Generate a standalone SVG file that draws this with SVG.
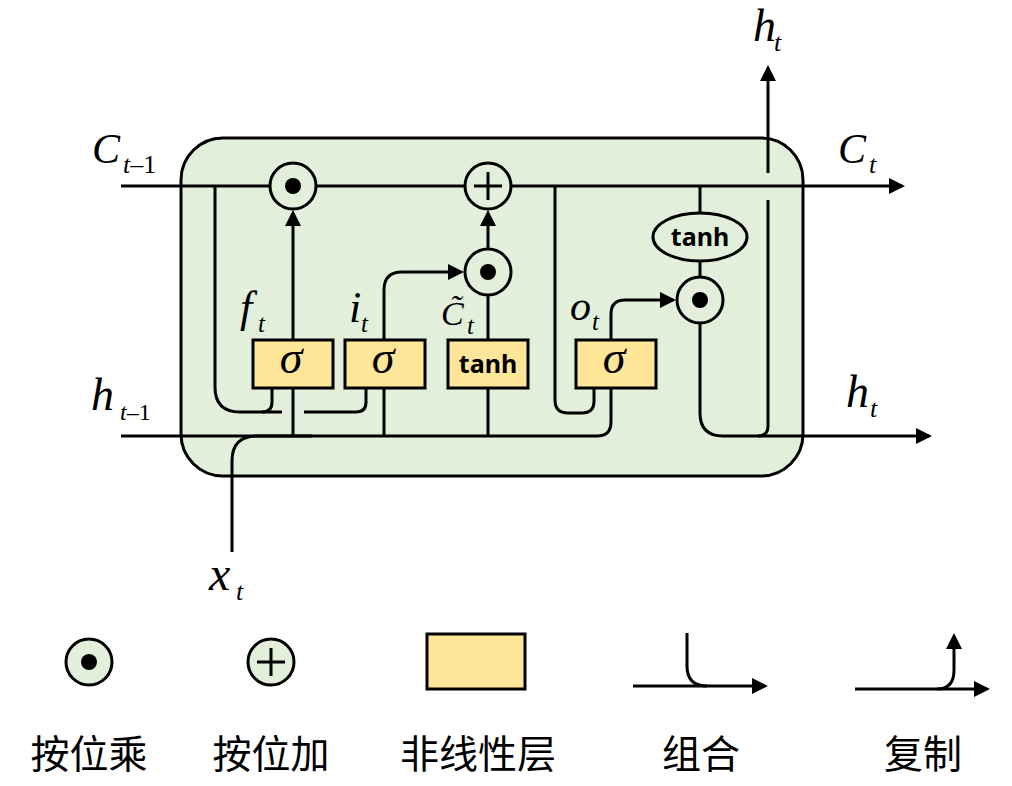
<svg xmlns="http://www.w3.org/2000/svg" width="1012" height="786" viewBox="0 0 1012 786">
<style>
.ln{fill:none;stroke:#000;stroke-width:3}
.op{fill:#E2EFDA;stroke:#000;stroke-width:3}
.box{fill:#FFE699;stroke:#000;stroke-width:3}
.dot{fill:#000}
.m{font-family:"Liberation Serif",serif;font-style:italic;fill:#000}
.r{font-style:normal}
.cc{font-size:42px}
.hh{font-size:46px}
.mid{font-size:44px}
.sub{font-size:26px}
.sub2{font-size:25px}
.sig{font-family:"Liberation Serif",serif;font-style:italic;font-size:46px;text-anchor:middle}
.tn{font-family:"Noto Sans",sans-serif;font-weight:bold;font-size:25px;text-anchor:middle}
.lg{font-family:"Noto Sans CJK SC",sans-serif;font-size:39px;text-anchor:middle}
</style>
<defs>
<marker id="ah" markerWidth="16" markerHeight="16" refX="13" refY="8" orient="auto" markerUnits="userSpaceOnUse">
<path d="M0,0 L16,8 L0,16 Z" fill="#000"/>
</marker>
</defs>
<g id="cell"><rect x="181" y="138" width="622" height="338" rx="42" ry="42" fill="#E2EFDA" stroke="#000" stroke-width="3"/></g>
<g id="connectors" class="ln">
<path d="M121 186 H902" marker-end="url(#ah)"/>
<path d="M768 173 V68" marker-end="url(#ah)"/>
<path d="M768 200 V426 Q768 436 758 436"/>
<path d="M700 324 V413 Q700 436 723 436 H929" marker-end="url(#ah)"/>
<path d="M121 436 H312"/>
<path d="M232 552 V461 Q232 436 257 436 H597 Q611 436 611 422 V388"/>
<path d="M293 436 V388"/>
<path d="M293 340 V213" marker-end="url(#ah)"/>
<path d="M215 186 V387 Q215 412 240 412 H282"/>
<path d="M272 388 V402 Q272 412 262 412"/>
<path d="M304 412 H356 Q366 412 366 402 V388"/>
<path d="M384 436 V388"/>
<path d="M384 340 V290 Q384 272 402 272 H461" marker-end="url(#ah)"/>
<path d="M488 436 V388"/>
<path d="M488 340 V296"/>
<path d="M488 248 V213" marker-end="url(#ah)"/>
<path d="M555 186 V400 Q555 413 568 413 H582 Q594 413 594 401 V388"/>
<path d="M611 340 V314 Q611 300 625 300 H673" marker-end="url(#ah)"/>
<path d="M700 186 V213"/>
<path d="M700 261 V277"/>
</g>
<g id="mul-forget"><circle class="op" cx="293" cy="186" r="23"/><circle class="dot" cx="293" cy="186" r="8"/></g>
<g id="add-cell"><circle class="op" cx="488" cy="186" r="23"/><path class="ln" d="M474 186 H502 M488 172 V200"/></g>
<g id="mul-input"><circle class="op" cx="488" cy="272" r="23"/><circle class="dot" cx="488" cy="272" r="8"/></g>
<g id="mul-output"><circle class="op" cx="700" cy="300" r="23"/><circle class="dot" cx="700" cy="300" r="8"/></g>
<g id="tanh-out"><ellipse class="op" cx="700" cy="237" rx="47" ry="24"/><text class="tn" x="700" y="246">tanh</text></g>
<g id="gate-f"><rect class="box" x="253" y="340" width="80" height="48"/><text class="sig" x="291" y="373">σ</text></g>
<g id="gate-i"><rect class="box" x="345" y="340" width="80" height="48"/><text class="sig" x="383" y="373">σ</text></g>
<g id="gate-c"><rect class="box" x="448" y="340" width="80" height="48"/><text class="tn" x="488" y="373">tanh</text></g>
<g id="gate-o"><rect class="box" x="576" y="340" width="80" height="48"/><text class="sig" x="614" y="373">σ</text></g>
<g id="labels">
<text class="m cc" x="92" y="163">C</text><text class="m sub" x="123" y="173">t<tspan class="r">–1</tspan></text>
<text class="m cc" x="838" y="163">C</text><text class="m sub" x="869" y="173">t</text>
<text class="m hh" x="753" y="41">h</text><text class="m sub" x="774" y="51">t</text>
<text class="m hh" x="91" y="410">h</text><text class="m sub" x="120" y="420" style="font-size:24px">t<tspan class="r">–1</tspan></text>
<text class="m hh" x="846" y="407">h</text><text class="m sub" x="870" y="417">t</text>
<text class="m" style="font-size:48px" x="209" y="590">x</text><text class="m sub" x="236" y="600">t</text>
<text class="m mid" x="240" y="322">f</text><text class="m sub2" x="258" y="332">t</text>
<text class="m mid" x="349" y="322">i</text><text class="m sub2" x="361" y="332">t</text>
<text class="m" style="font-size:34px" x="441" y="325">C&#x303;</text><text class="m sub2" x="467" y="334">t</text>
<text class="m" style="font-size:42px" x="570" y="320">o</text><text class="m sub2" x="592" y="330">t</text>
</g>
<g id="legend-mul"><circle class="op" cx="89" cy="662" r="23"/><circle class="dot" cx="89" cy="662" r="8"/><text class="lg" x="89" y="768">按位乘</text></g>
<g id="legend-add"><circle class="op" cx="271" cy="662" r="23"/><path class="ln" d="M257 662 H285 M271 648 V676"/><text class="lg" x="271" y="768">按位加</text></g>
<g id="legend-layer"><rect class="box" x="427" y="634" width="98" height="55"/><text class="lg" x="478" y="768">非线性层</text></g>
<g id="legend-concat"><path class="ln" d="M633 686 H765" marker-end="url(#ah)"/><path class="ln" d="M687 633 V666 Q687 686 707 686"/><text class="lg" x="701" y="768">组合</text></g>
<g id="legend-copy"><path class="ln" d="M855 689 H987" marker-end="url(#ah)"/><path class="ln" d="M937 689 Q954 689 954 670 V636" marker-end="url(#ah)"/><text class="lg" x="923" y="768">复制</text></g>
</svg>
